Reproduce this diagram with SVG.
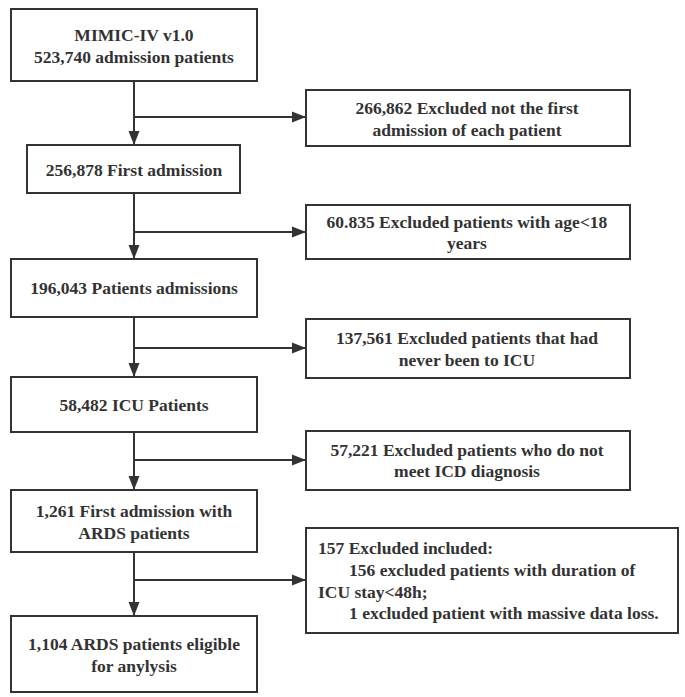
<svg xmlns="http://www.w3.org/2000/svg" width="685" height="697" viewBox="0 0 685 697">
<style>
.box{fill:#fff;stroke:#333;stroke-width:2}
.t{font-family:"Liberation Serif","Times New Roman",serif;font-weight:bold;font-size:17.5px;fill:#333}
.c{text-anchor:middle}
.ln{fill:none;stroke:#333;stroke-width:2}
</style>
<defs>
<marker id="ah" markerUnits="userSpaceOnUse" markerWidth="14" markerHeight="12" refX="14" refY="6" orient="auto">
<path d="M0,0.5 L14,6 L0,11.5 z" fill="#333"/>
</marker>
</defs>
<rect width="685" height="697" fill="#fff"/>
<g id="connectors">
<line class="ln" x1="134" y1="81" x2="134" y2="145" marker-end="url(#ah)"/>
<line class="ln" x1="134" y1="117" x2="306" y2="117" marker-end="url(#ah)"/>
<line class="ln" x1="134" y1="193" x2="134" y2="259" marker-end="url(#ah)"/>
<line class="ln" x1="134" y1="232" x2="306" y2="232" marker-end="url(#ah)"/>
<line class="ln" x1="134" y1="317" x2="134" y2="377" marker-end="url(#ah)"/>
<line class="ln" x1="134" y1="348" x2="306" y2="348" marker-end="url(#ah)"/>
<line class="ln" x1="134" y1="432" x2="134" y2="490" marker-end="url(#ah)"/>
<line class="ln" x1="134" y1="460" x2="306" y2="460" marker-end="url(#ah)"/>
<line class="ln" x1="134" y1="552" x2="134" y2="616" marker-end="url(#ah)"/>
<line class="ln" x1="134" y1="580" x2="306" y2="580" marker-end="url(#ah)"/>
</g>
<g id="n1">
<rect class="box" x="11" y="9" width="246" height="72"/>
<text class="t c" x="134" y="41">MIMIC-IV v1.0</text>
<text class="t c" x="134" y="63">523,740 admission patients</text>
</g>
<g id="n2">
<rect class="box" x="27" y="145" width="213" height="48"/>
<text class="t c" x="134" y="176">256,878 First admission</text>
</g>
<g id="n3">
<rect class="box" x="306" y="90" width="324" height="56"/>
<text class="t c" x="467" y="114">266,862 Excluded not the first</text>
<text class="t c" x="467" y="136">admission of each patient</text>
</g>
<g id="n4">
<rect class="box" x="306" y="205" width="324" height="54"/>
<text class="t c" x="467" y="228">60.835 Excluded patients with age&lt;18</text>
<text class="t c" x="467" y="249">years</text>
</g>
<g id="n5">
<rect class="box" x="11" y="259" width="246" height="58"/>
<text class="t c" x="134" y="294">196,043 Patients admissions</text>
</g>
<g id="n6">
<rect class="box" x="306" y="319" width="324" height="59"/>
<text class="t c" x="467" y="344">137,561 Excluded patients that had</text>
<text class="t c" x="467" y="366">never been to ICU</text>
</g>
<g id="n7">
<rect class="box" x="11" y="377" width="246" height="55"/>
<text class="t c" x="134" y="411">58,482 ICU Patients</text>
</g>
<g id="n8">
<rect class="box" x="306" y="431" width="324" height="59"/>
<text class="t c" x="467" y="456">57,221 Excluded patients who do not</text>
<text class="t c" x="467" y="477">meet ICD diagnosis</text>
</g>
<g id="n9">
<rect class="box" x="11" y="490" width="246" height="62"/>
<text class="t c" x="134" y="517">1,261 First admission with</text>
<text class="t c" x="134" y="539">ARDS patients</text>
</g>
<g id="n10">
<rect class="box" x="306" y="528" width="372" height="105"/>
<text class="t" x="318" y="554">157 Excluded included:</text>
<text class="t" x="349" y="576">156 excluded patients with duration of</text>
<text class="t" x="318" y="598">ICU stay&lt;48h;</text>
<text class="t" x="349" y="619">1 excluded patient with massive data loss.</text>
</g>
<g id="n11">
<rect class="box" x="11" y="616" width="246" height="76"/>
<text class="t c" x="134" y="650">1,104 ARDS patients eligible</text>
<text class="t c" x="134" y="672">for anylysis</text>
</g>
</svg>
